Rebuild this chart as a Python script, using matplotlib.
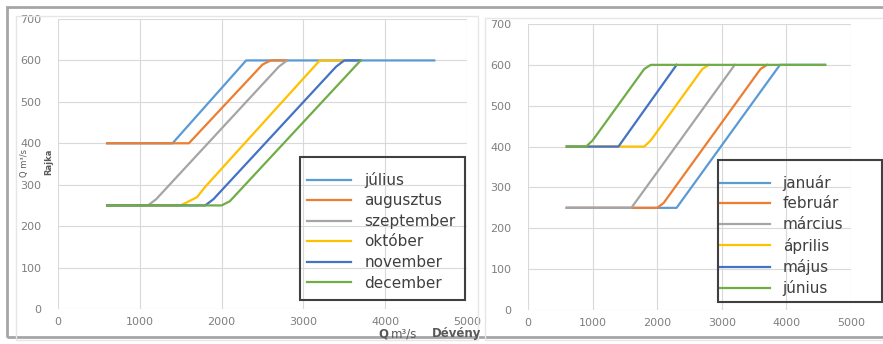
"""
Rajka vs. Dévény discharge rule curves, two panels (Jul-Dec, Jan-Jun).
"""

import matplotlib
matplotlib.use("Agg")
import matplotlib.pyplot as plt
from matplotlib.patches import Rectangle

W, H = 883, 344

# --- data ---
months_left = ["július", "augusztus", "szeptember", "október", "november", "december"]
x_left = [
    [600, 1400, 2300, 4600],
    [600, 1600, 2500, 2600, 2800],
    [600, 1100, 1200, 2700, 2800],
    [600, 1500, 1700, 1800, 3200, 3500],
    [600, 1800, 1900, 3400, 3500, 3700],
    [600, 2000, 2100, 3700],
]
y_left = [
    [400, 400, 600, 600],
    [400, 400, 590, 600, 600],
    [250, 250, 265, 585, 600],
    [250, 250, 270, 295, 600, 600],
    [250, 250, 265, 585, 600, 600],
    [250, 250, 260, 600],
]

months_right = ["január", "február", "március", "április", "május", "június"]
x_right = [
    [600, 2300, 3900, 4600],
    [600, 2000, 2100, 3600, 3700],
    [600, 1600, 3200],
    [600, 1800, 1900, 2700, 2800],
    [600, 1400, 2300],
    [600, 900, 1000, 1800, 1900, 4600],
]
y_right = [
    [250, 250, 600, 600],
    [250, 250, 262, 590, 600],
    [250, 250, 600],
    [400, 400, 415, 590, 600],
    [400, 400, 600],
    [400, 400, 415, 590, 600, 600],
]

colors = ["#5B9BD5", "#ED7D31", "#A5A5A5", "#FFC000", "#4472C4", "#70AD47"]

xticks = [0, 1000, 2000, 3000, 4000, 5000]
yticks = [0, 100, 200, 300, 400, 500, 600, 700]


def fig_rect(x0, y0, x1, y1):
    # pixel box (top-left origin) -> figure fraction [left, bottom, w, h]
    return [x0 / W, 1 - y1 / H, (x1 - x0) / W, (y1 - y0) / H]


def fig_box(x0, y0, x1, y1, **kw):
    r = fig_rect(x0, y0, x1, y1)
    fig.patches.append(Rectangle((r[0], r[1]), r[2], r[3],
                                 transform=fig.transFigure, fill=False, **kw))


fig = plt.figure(figsize=(W / 100, H / 100), dpi=100)
fig.patch.set_facecolor("white")

# frames around the two pasted charts
fig_box(7, 7, W + 5, 337, edgecolor="#a6a6a6", linewidth=2.0)
fig_box(16, 16, 478, 340, edgecolor="#e6e6e6", linewidth=1.0)
fig_box(485, 18, W + 5, 340, edgecolor="#e6e6e6", linewidth=1.0)

ax1 = fig.add_axes(fig_rect(58, 19, 467, 309))
ax2 = fig.add_axes(fig_rect(528, 24, 851, 310))


def style_axes(ax):
    ax.set_xlim(0, 5000)
    ax.set_ylim(0, 700)
    ax.set_xticks(xticks)
    ax.set_yticks(yticks)
    ax.grid(True, color="#d9d9d9", linewidth=0.8)
    ax.set_axisbelow(True)
    for s in ax.spines.values():
        s.set_visible(False)
    ax.tick_params(length=0, labelsize=8, labelcolor="#7f7f7f")
    ax.tick_params(axis="x", pad=6)
    ax.tick_params(axis="y", pad=12)


for xs, ys, c, lab in zip(x_left, y_left, colors, months_left):
    ax1.plot(xs, ys, color=c, linewidth=1.6, label=lab, solid_joinstyle="round")
for xs, ys, c, lab in zip(x_right, y_right, colors, months_right):
    ax2.plot(xs, ys, color=c, linewidth=1.6, label=lab, solid_joinstyle="round")

style_axes(ax1)
style_axes(ax2)

# legend frames drawn by hand, legends themselves frameless
fig_box(300, 157, 465, 300, edgecolor="#404040", linewidth=1.5, zorder=5)
fig_box(718, 160, 882, 302, edgecolor="#404040", linewidth=1.5, zorder=5)

leg_kw = dict(loc="upper left", fontsize=11, frameon=False,
              labelspacing=0.36, handletextpad=0.85,
              borderpad=0, borderaxespad=0, labelcolor="#404040",
              bbox_transform=fig.transFigure)
ax1.legend(bbox_to_anchor=(307 / W, 1 - 172 / H), handlelength=2.9, **leg_kw)
ax2.legend(bbox_to_anchor=(720 / W, 1 - 175 / H), handlelength=3.25, **leg_kw)

# axis titles
fig.text(25 / W, 1 - 163 / H, "Q m³/s", rotation=90, ha="center", va="center",
         fontsize=6, color="#595959")
fig.text(49 / W, 1 - 162 / H, "Rajka", rotation=90, ha="center", va="center",
         fontsize=6, fontweight="bold", color="#595959")
fig.text(378 / W, 1 - 334 / H, "Q", ha="left", va="center",
         fontsize=8.5, fontweight="bold", color="#595959")
fig.text(391 / W, 1 - 334 / H, "m³/s", ha="left", va="center",
         fontsize=8.5, color="#595959")
fig.text(432 / W, 1 - 334 / H, "Dévény", ha="left", va="center",
         fontsize=8.5, fontweight="bold", color="#595959")

fig.savefig("out.png", dpi=100)
